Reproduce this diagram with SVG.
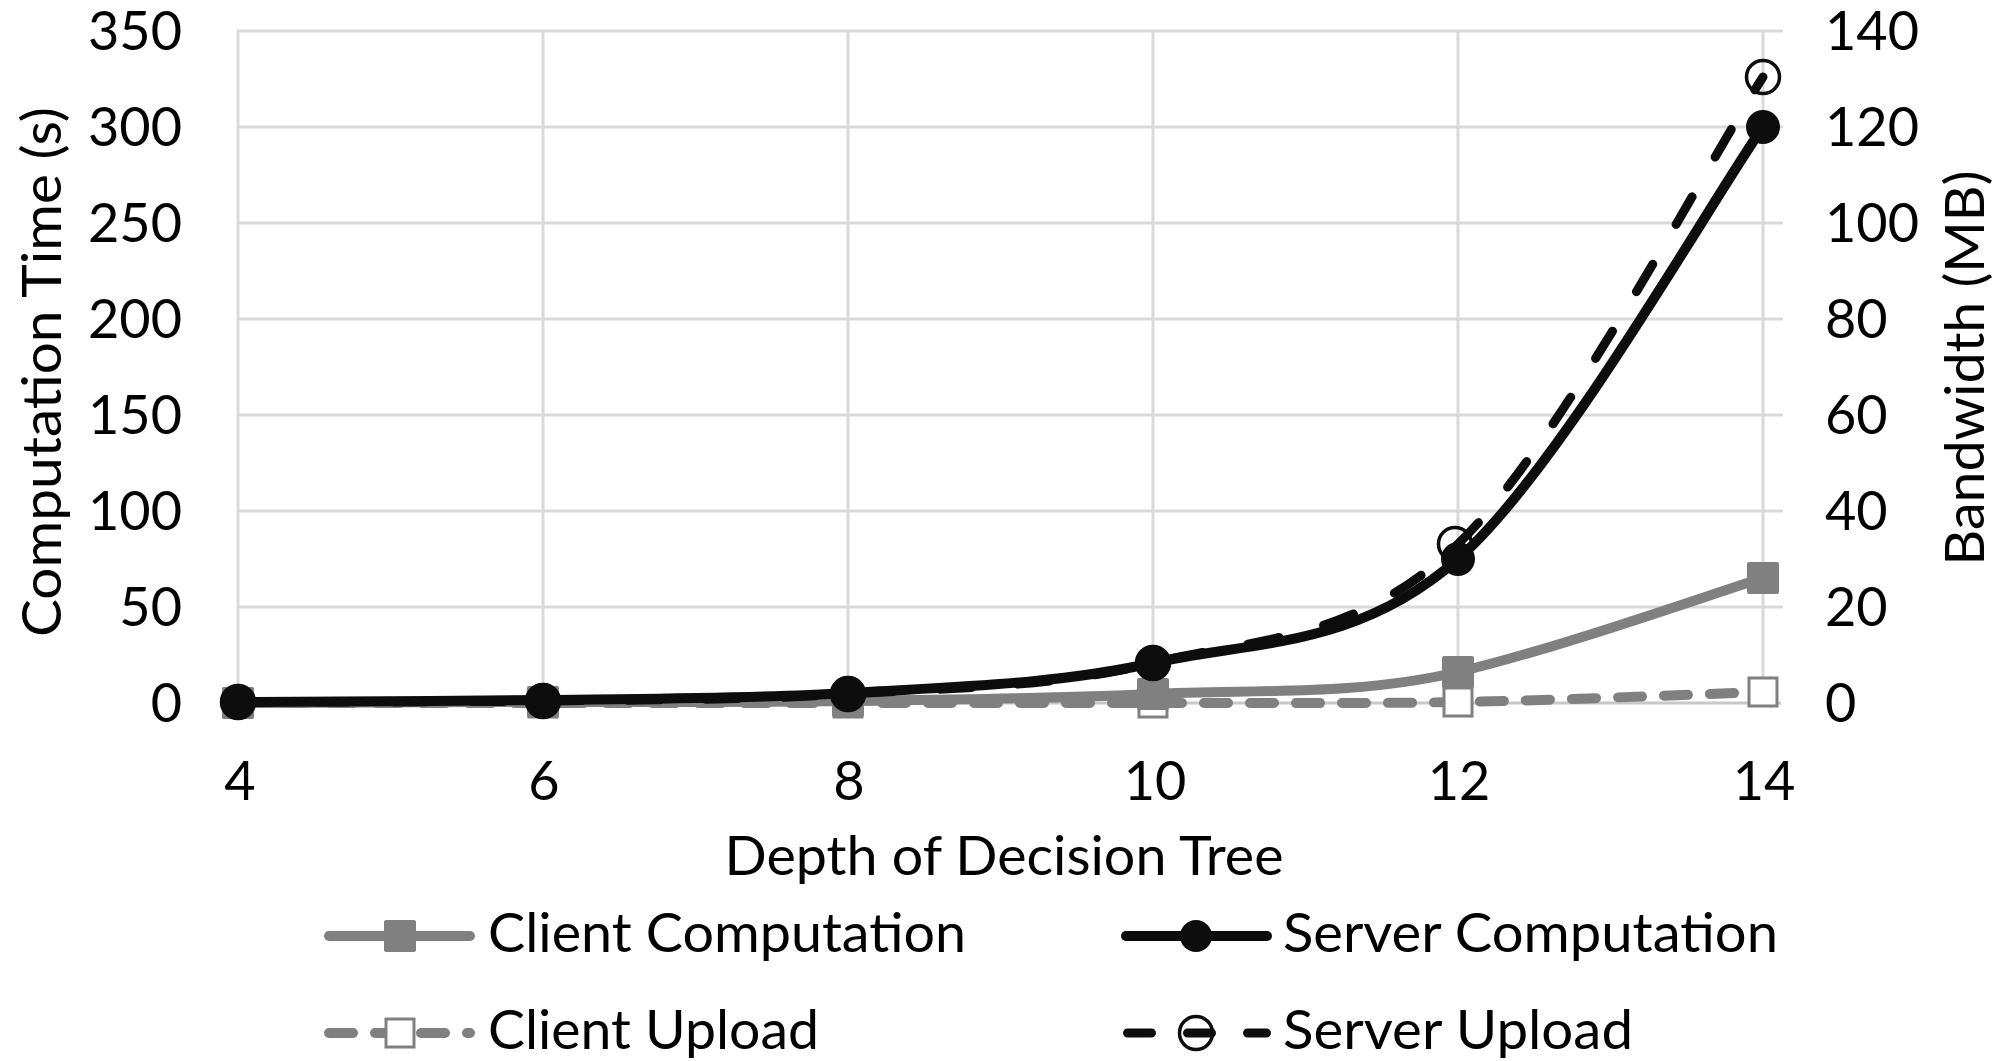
<svg xmlns="http://www.w3.org/2000/svg" width="2007" height="1061" viewBox="0 0 2007 1061">
  <style>
    .grid { stroke: #d9d9d9; stroke-width: 3; fill: none; }
    .axis { stroke: #c8c8c8; stroke-width: 3; fill: none; }
    .lbl { font-family: Lato, "Liberation Sans", sans-serif; font-size: 54px; fill: #000; }
    .ylab { text-anchor: end; }
    .rlab { text-anchor: start; }
    .xlab { text-anchor: middle; }
    .title { text-anchor: middle; }
    .cc-line { stroke: #808080; stroke-width: 10; fill: none; stroke-linecap: round; stroke-linejoin: round; }
    .cu-line { stroke: #808080; stroke-width: 10; fill: none; stroke-linecap: round; stroke-dasharray: 24 22; }
    .sc-line { stroke: #0d0d0d; stroke-width: 10; fill: none; stroke-linecap: round; stroke-linejoin: round; }
    .su-line { stroke: #0d0d0d; stroke-width: 9; fill: none; stroke-linecap: round; stroke-dasharray: 32 46; }
    .cc-mk { fill: #808080; }
    .cu-mk { fill: #fff; stroke: #808080; stroke-width: 3; }
    .sc-mk { fill: #0d0d0d; }
    .su-mk { fill: none; stroke: #0d0d0d; stroke-width: 3.5; }
  </style>
  <defs>
    <rect id="sq" x="-16" y="-16" width="32" height="32" rx="2"/>
    <rect id="osq" x="-14" y="-14" width="28" height="28"/>
    <circle id="dot" r="17"/>
    <circle id="ring" r="16.5"/>
  </defs>

  <rect width="2007" height="1061" fill="#fff"/>

  <!-- gridlines -->
  <g id="gridlines">
    <path class="grid" d="M237 31H1783M237 127H1783M237 223H1783M237 319H1783M237 415H1783M237 511H1783M237 607H1783"/>
    <path class="grid" d="M238 31V703M543 31V703M848 31V703M1153 31V703M1458 31V703M1763 31V703"/>
    <path class="axis" d="M237 703H1781"/>
  </g>

  <!-- left axis: computation time -->
  <g id="left-axis" class="lbl ylab">
    <text x="182" y="50">350</text>
    <text x="182" y="146">300</text>
    <text x="182" y="242">250</text>
    <text x="182" y="338">200</text>
    <text x="182" y="434">150</text>
    <text x="182" y="530">100</text>
    <text x="182" y="626">50</text>
    <text x="182" y="722">0</text>
  </g>
  <text id="left-title" class="lbl title" transform="translate(61 372) rotate(-90)" textLength="530" lengthAdjust="spacingAndGlyphs">Computation Time (s)</text>

  <!-- right axis: bandwidth -->
  <g id="right-axis" class="lbl rlab">
    <text x="1825" y="50">140</text>
    <text x="1825" y="146">120</text>
    <text x="1825" y="242">100</text>
    <text x="1825" y="338">80</text>
    <text x="1825" y="434">60</text>
    <text x="1825" y="530">40</text>
    <text x="1825" y="626">20</text>
    <text x="1825" y="722">0</text>
  </g>
  <text id="right-title" class="lbl title" transform="translate(1984 368) rotate(-90)" textLength="395" lengthAdjust="spacingAndGlyphs">Bandwidth (MB)</text>

  <!-- x axis -->
  <g id="x-axis" class="lbl xlab">
    <text x="240" y="800">4</text>
    <text x="544" y="800">6</text>
    <text x="849" y="800">8</text>
    <text x="1155" y="800">10</text>
    <text x="1459" y="800">12</text>
    <text x="1764" y="800">14</text>
  </g>
  <text id="x-title" class="lbl title" x="1004" y="875" textLength="559" lengthAdjust="spacingAndGlyphs">Depth of Decision Tree</text>

  <!-- data series -->
  <g id="series">
    <g id="client-upload">
      <path class="cu-line" d="M238 703C288.8 703 441.3 703 543 703C644.7 703 746.3 703 848 703C949.7 703 1051.3 703 1153 703C1254.7 702.8 1356.3 703.8 1458 702C1559.7 700.2 1712.2 693.7 1763 692"/>
      <use href="#osq" class="cu-mk" x="238" y="703"/>
      <use href="#osq" class="cu-mk" x="543" y="703"/>
      <use href="#osq" class="cu-mk" x="848" y="703"/>
      <use href="#osq" class="cu-mk" x="1153" y="703"/>
      <use href="#osq" class="cu-mk" x="1458" y="702"/>
      <use href="#osq" class="cu-mk" x="1763" y="692"/>
    </g>
    <g id="client-computation">
      <path class="cc-line" d="M238 703C288.8 702.8 441.3 702.3 543 702C644.7 701.7 746.3 702.3 848 701C949.7 699.7 1051.3 698.8 1153 694C1254.7 689.2 1356.3 696 1458 672C1559.7 648 1712.2 593.7 1763 578"/>
      <use href="#sq" class="cc-mk" x="238" y="703"/>
      <use href="#sq" class="cc-mk" x="543" y="702"/>
      <use href="#sq" class="cc-mk" x="848" y="701"/>
      <use href="#sq" class="cc-mk" x="1153" y="694"/>
      <use href="#sq" class="cc-mk" x="1458" y="672"/>
      <use href="#sq" class="cc-mk" x="1763" y="578"/>
    </g>
    <g id="server-upload">
      <path class="su-line" d="M238 702C288.8 701.8 441.3 702.3 543 701C644.7 699.7 746.3 700.3 848 694C949.7 687.7 1051.3 688 1153 663C1254.7 638 1356.3 641.7 1458 544C1559.7 446.3 1712.2 154.8 1763 77"/>
      <use href="#ring" class="su-mk" x="238" y="702"/>
      <use href="#ring" class="su-mk" x="543" y="701"/>
      <use href="#ring" class="su-mk" x="848" y="694"/>
      <use href="#ring" class="su-mk" x="1153" y="663"/>
      <use href="#ring" class="su-mk" x="1455" y="544"/>
      <use href="#ring" class="su-mk" x="1763" y="77"/>
    </g>
    <g id="server-computation">
      <path class="sc-line" d="M238 702C288.8 701.7 441.3 701.5 543 700C644.7 698.5 746.3 699.2 848 693C949.7 686.8 1051.3 685.3 1153 663C1254.7 640.7 1356.3 648.3 1458 559C1559.7 469.7 1712.2 199 1763 127"/>
      <use href="#dot" class="sc-mk" x="238" y="702"/>
      <use href="#dot" class="sc-mk" x="543" y="700"/>
      <use href="#dot" class="sc-mk" x="848" y="693"/>
      <use href="#dot" class="sc-mk" x="1153" y="663"/>
      <use href="#dot" class="sc-mk" x="1458" y="559"/>
      <use href="#dot" class="sc-mk" x="1763" y="127"/>
    </g>
  </g>

  <!-- legend -->
  <g id="legend">
    <g id="legend-client-computation">
      <line class="cc-line" x1="329" y1="936" x2="470" y2="936"/>
      <use href="#sq" class="cc-mk" x="400" y="936"/>
      <text class="lbl" x="488" y="952" textLength="478" lengthAdjust="spacingAndGlyphs">Client Computation</text>
    </g>
    <g id="legend-server-computation">
      <line class="sc-line" x1="1126" y1="936" x2="1267" y2="936"/>
      <circle class="sc-mk" cx="1196" cy="936" r="16"/>
      <text class="lbl" x="1283" y="952" textLength="495" lengthAdjust="spacingAndGlyphs">Server Computation</text>
    </g>
    <g id="legend-client-upload">
      <line class="cu-line" x1="329" y1="1033" x2="470" y2="1033"/>
      <use href="#osq" class="cu-mk" x="400" y="1033"/>
      <text class="lbl" x="488" y="1049" textLength="331" lengthAdjust="spacingAndGlyphs">Client Upload</text>
    </g>
    <g id="legend-server-upload">
      <line class="su-line" style="stroke-dasharray:24 36" x1="1127.5" y1="1033" x2="1266.5" y2="1033"/>
      <circle class="su-mk" cx="1196" cy="1033" r="16.5"/>
      <text class="lbl" x="1283" y="1049" textLength="350" lengthAdjust="spacingAndGlyphs">Server Upload</text>
    </g>
  </g>
</svg>
